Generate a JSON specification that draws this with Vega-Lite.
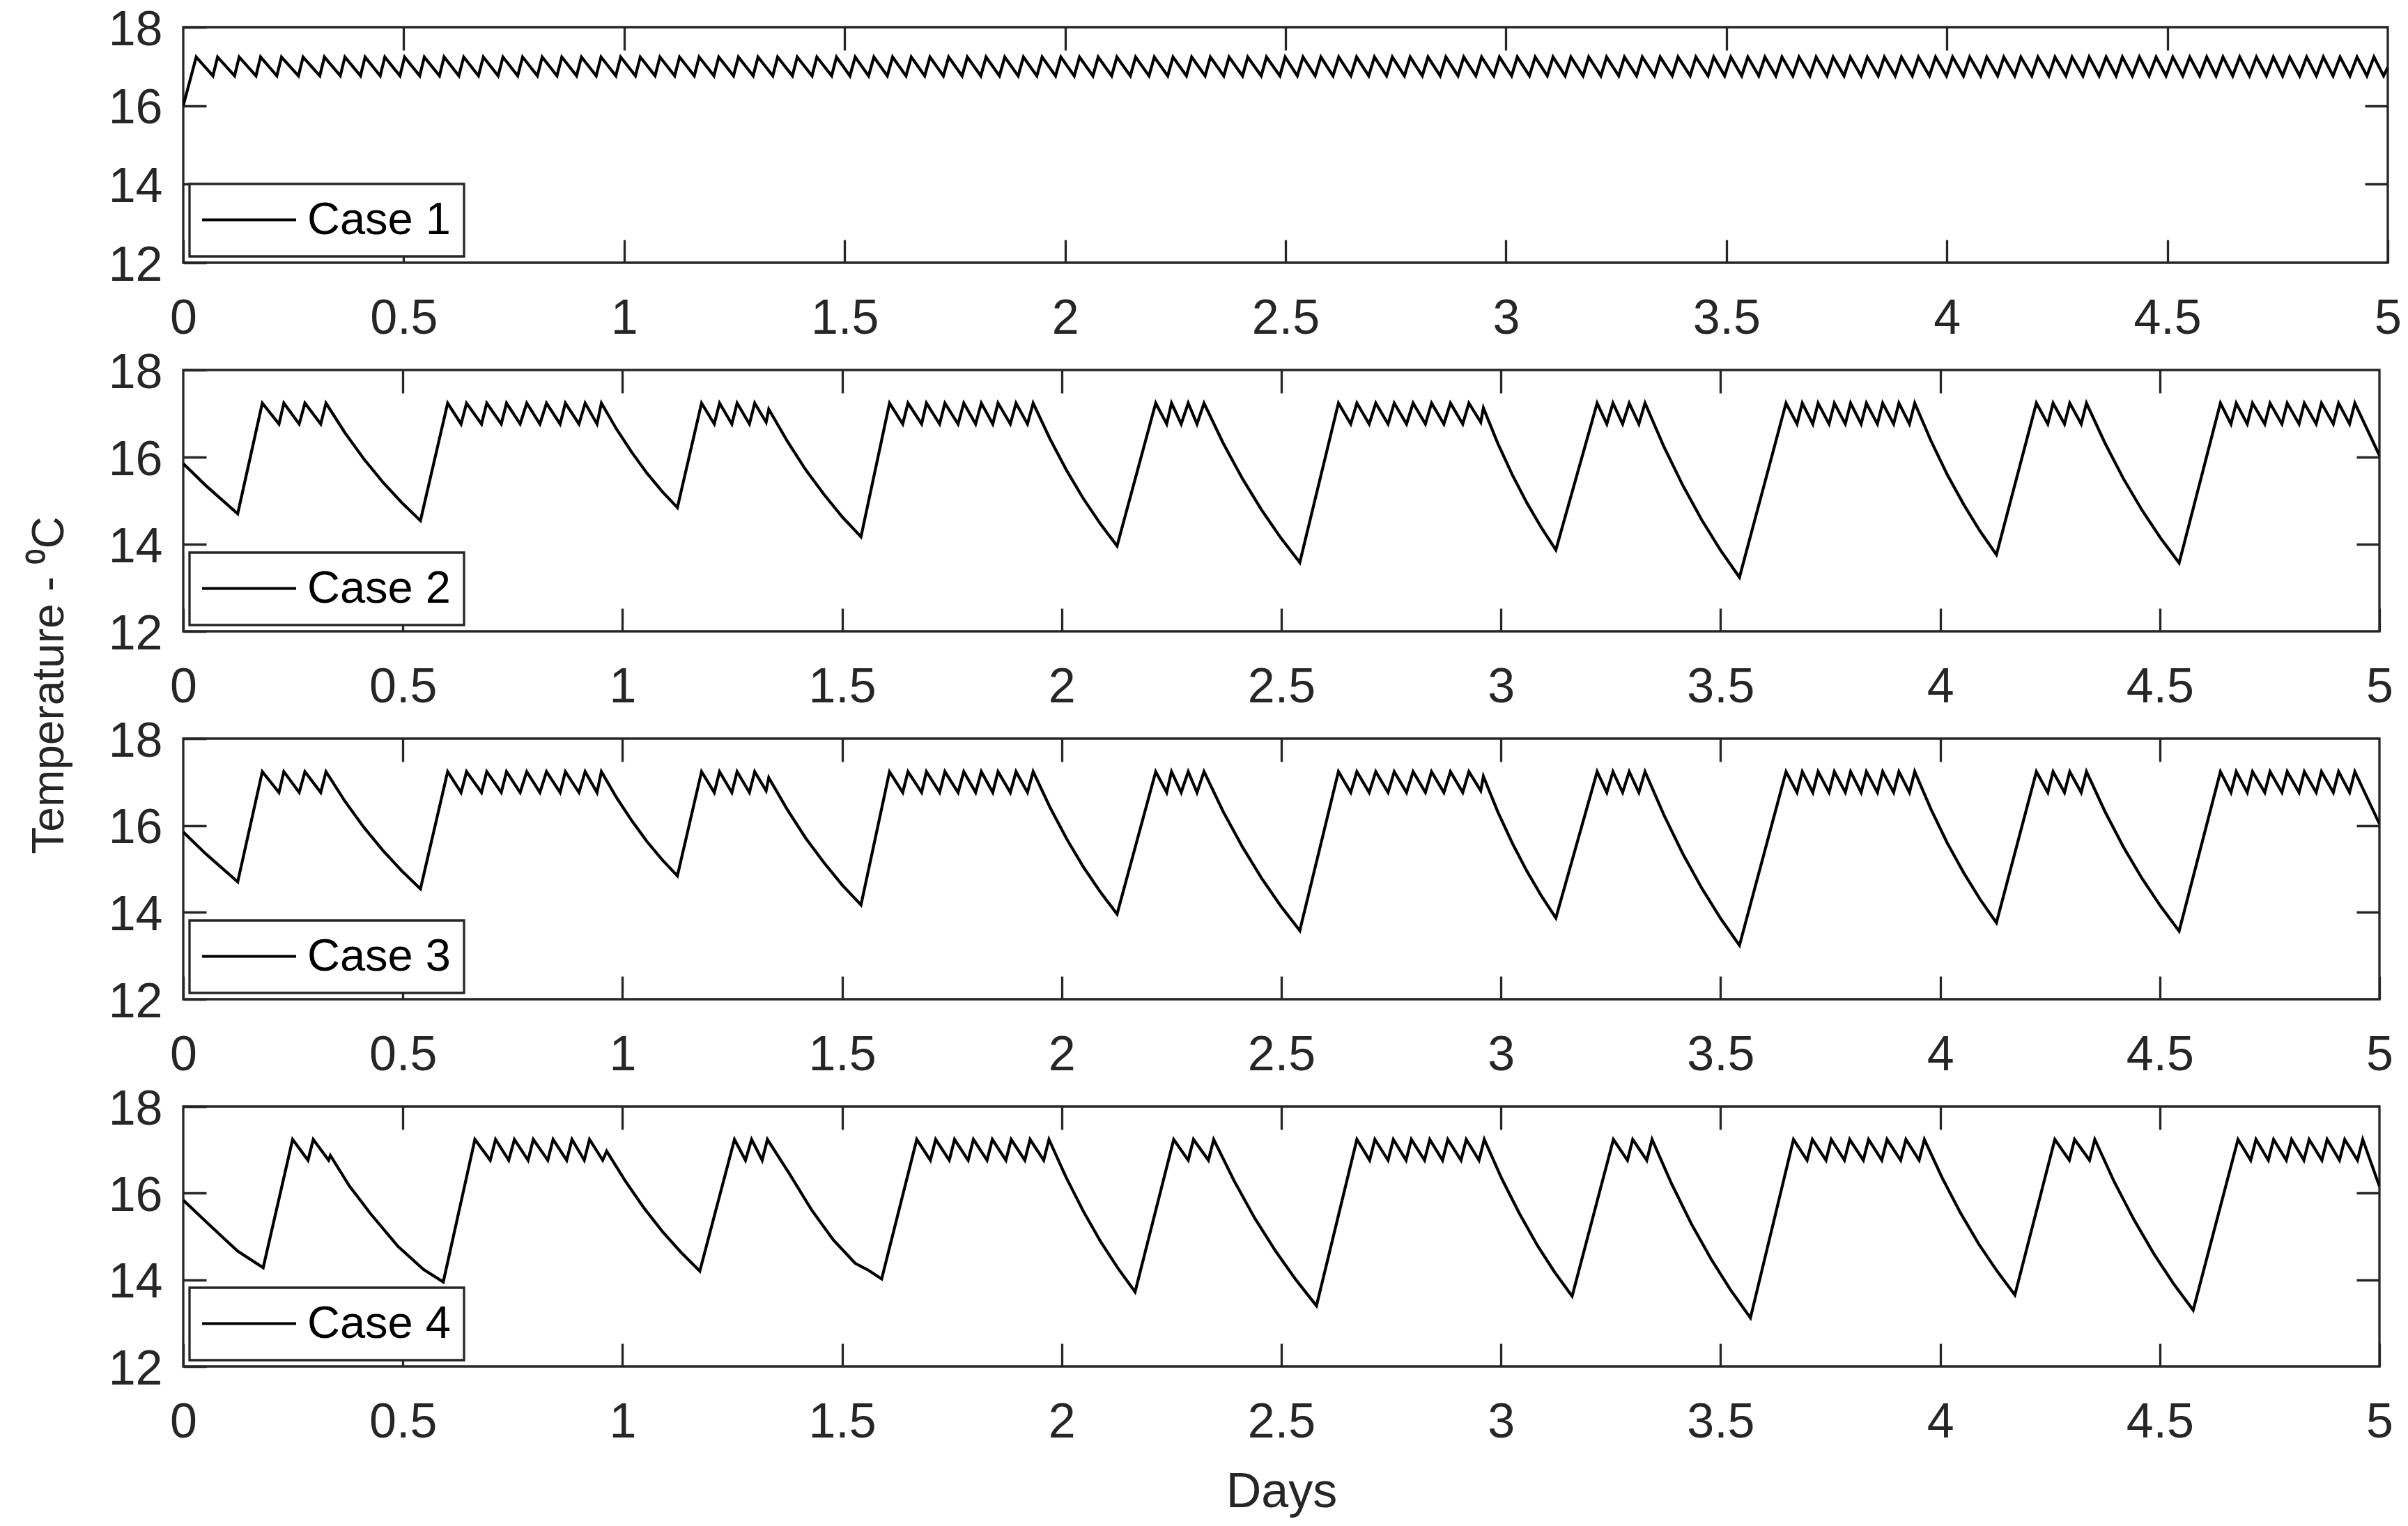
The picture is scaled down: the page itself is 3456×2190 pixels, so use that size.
{
"$schema": "https://vega.github.io/schema/vega-lite/v6.json",
"background": "white",
"padding": {"left": 37, "top": 6, "right": 20, "bottom": 10},
"spacing": 154,
"bounds": "flush",
"config": {
  "font": "Liberation Sans",
  "view": {"stroke": "#262626", "strokeWidth": 3.3},
  "axis": {"grid": false, "domain": false, "ticks": true, "tickColor": "#262626", "tickWidth": 3.3, "tickSize": -33, "labelFont": "Liberation Sans", "labelFontSize": 70, "labelColor": "#262626", "labelFlush": false, "labelOverlap": false, "labelBound": false, "titleFont": "Liberation Sans", "titleFontSize": 70, "titleFontWeight": "normal", "titleColor": "#262626"},
  "axisX": {"labelPadding": 79},
  "axisY": {"labelPadding": 63, "labelOffset": 4},
  "legend": {"orient": "bottom-left", "offset": 9, "padding": 19, "fillColor": "white", "strokeColor": "#262626", "strokeWidth": 3.3, "labelFont": "Liberation Sans", "labelFontSize": 65, "labelColor": "black", "labelOffset": 51, "labelLimit": 1000, "symbolOffset": 34, "symbolType": "M-5,0H5", "symbolSize": 729, "symbolStrokeWidth": 4.2, "symbolStrokeColor": "black"}
},
"resolve": {"scale": {"stroke": "independent"}, "legend": {"stroke": "independent"}},
"datasets": {
"c1": [
{"d":0,"t":16.0},{"d":0.0294,"t":17.24},{"d":0.0674,"t":16.76},{"d":0.0779,"t":17.24},{"d":0.1164,"t":16.76},{"d":0.1269,"t":17.24},{"d":0.1649,"t":16.76},{"d":0.1754,"t":17.24},{"d":0.2123,"t":16.76},{"d":0.2228,"t":17.24},{"d":0.2613,"t":16.76},{"d":0.2718,"t":17.24},{"d":0.3097,"t":16.76},{"d":0.3202,"t":17.24},{"d":0.3562,"t":16.76},{"d":0.3667,"t":17.24},{"d":0.402,"t":16.76},{"d":0.4125,"t":17.24},{"d":0.4467,"t":16.76},{"d":0.4572,"t":17.24},{"d":0.4915,"t":16.76},{"d":0.502,"t":17.24},{"d":0.5363,"t":16.76},{"d":0.5468,"t":17.24},{"d":0.5811,"t":16.76},{"d":0.5916,"t":17.24},
{"d":0.6251,"t":16.76},{"d":0.6361,"t":17.24},{"d":0.6696,"t":16.76},{"d":0.6806,"t":17.24},{"d":0.7141,"t":16.76},{"d":0.7251,"t":17.24},{"d":0.7586,"t":16.76},{"d":0.7696,"t":17.24},{"d":0.8031,"t":16.76},{"d":0.8141,"t":17.24},{"d":0.8476,"t":16.76},{"d":0.8586,"t":17.24},{"d":0.8921,"t":16.76},{"d":0.9031,"t":17.24},{"d":0.9366,"t":16.76},{"d":0.9476,"t":17.24},{"d":0.9811,"t":16.76},{"d":0.9921,"t":17.24},{"d":1.0256,"t":16.76},{"d":1.0366,"t":17.24},{"d":1.0701,"t":16.76},{"d":1.0811,"t":17.24},{"d":1.1146,"t":16.76},{"d":1.1256,"t":17.24},{"d":1.1591,"t":16.76},{"d":1.1701,"t":17.24},{"d":1.2036,"t":16.76},{"d":1.2146,"t":17.24},{"d":1.2481,"t":16.76},{"d":1.2591,"t":17.24},{"d":1.2926,"t":16.76},{"d":1.3036,"t":17.24},{"d":1.3371,"t":16.76},{"d":1.3481,"t":17.24},{"d":1.3816,"t":16.76},{"d":1.3926,"t":17.24},{"d":1.4261,"t":16.76},{"d":1.4371,"t":17.24},{"d":1.4706,"t":16.76},{"d":1.4816,"t":17.24},
{"d":1.512,"t":16.76},{"d":1.524,"t":17.24},{"d":1.5544,"t":16.76},{"d":1.5664,"t":17.24},{"d":1.5968,"t":16.76},{"d":1.6088,"t":17.24},{"d":1.6392,"t":16.76},{"d":1.6512,"t":17.24},{"d":1.6816,"t":16.76},{"d":1.6936,"t":17.24},{"d":1.724,"t":16.76},{"d":1.736,"t":17.24},{"d":1.7664,"t":16.76},{"d":1.7784,"t":17.24},{"d":1.8088,"t":16.76},{"d":1.8208,"t":17.24},{"d":1.8512,"t":16.76},{"d":1.8632,"t":17.24},{"d":1.8936,"t":16.76},{"d":1.9056,"t":17.24},{"d":1.936,"t":16.76},{"d":1.948,"t":17.24},{"d":1.9784,"t":16.76},{"d":1.9904,"t":17.24},{"d":2.0208,"t":16.76},{"d":2.0328,"t":17.24},{"d":2.0632,"t":16.76},{"d":2.0752,"t":17.24},{"d":2.1056,"t":16.76},{"d":2.1176,"t":17.24},{"d":2.148,"t":16.76},{"d":2.16,"t":17.24},{"d":2.1904,"t":16.76},{"d":2.2024,"t":17.24},{"d":2.2328,"t":16.76},{"d":2.2448,"t":17.24},{"d":2.2752,"t":16.76},{"d":2.2872,"t":17.24},{"d":2.3176,"t":16.76},{"d":2.3296,"t":17.24},{"d":2.36,"t":16.76},{"d":2.372,"t":17.24},{"d":2.4024,"t":16.76},{"d":2.4144,"t":17.24},{"d":2.4448,"t":16.76},{"d":2.4568,"t":17.24},{"d":2.4872,"t":16.76},{"d":2.4992,"t":17.24},
{"d":2.5267,"t":16.76},{"d":2.5397,"t":17.24},{"d":2.5672,"t":16.76},{"d":2.5802,"t":17.24},{"d":2.6077,"t":16.76},{"d":2.6207,"t":17.24},{"d":2.6482,"t":16.76},{"d":2.6612,"t":17.24},{"d":2.6887,"t":16.76},{"d":2.7017,"t":17.24},{"d":2.7292,"t":16.76},{"d":2.7422,"t":17.24},{"d":2.7697,"t":16.76},{"d":2.7827,"t":17.24},{"d":2.8102,"t":16.76},{"d":2.8232,"t":17.24},{"d":2.8507,"t":16.76},{"d":2.8637,"t":17.24},{"d":2.8912,"t":16.76},{"d":2.9042,"t":17.24},{"d":2.9317,"t":16.76},{"d":2.9447,"t":17.24},{"d":2.9722,"t":16.76},{"d":2.9852,"t":17.24},{"d":3.0127,"t":16.76},{"d":3.0257,"t":17.24},{"d":3.0532,"t":16.76},{"d":3.0662,"t":17.24},{"d":3.0937,"t":16.76},{"d":3.1067,"t":17.24},{"d":3.1342,"t":16.76},{"d":3.1472,"t":17.24},{"d":3.1747,"t":16.76},{"d":3.1877,"t":17.24},{"d":3.2152,"t":16.76},{"d":3.2282,"t":17.24},{"d":3.2557,"t":16.76},{"d":3.2687,"t":17.24},{"d":3.2962,"t":16.76},{"d":3.3092,"t":17.24},{"d":3.3367,"t":16.76},{"d":3.3497,"t":17.24},{"d":3.3772,"t":16.76},{"d":3.3902,"t":17.24},{"d":3.4177,"t":16.76},{"d":3.4307,"t":17.24},{"d":3.4582,"t":16.76},{"d":3.4712,"t":17.24},
{"d":3.4959,"t":16.76},{"d":3.5099,"t":17.24},{"d":3.5346,"t":16.76},{"d":3.5486,"t":17.24},{"d":3.5733,"t":16.76},{"d":3.5873,"t":17.24},{"d":3.612,"t":16.76},{"d":3.626,"t":17.24},{"d":3.6507,"t":16.76},{"d":3.6647,"t":17.24},{"d":3.6894,"t":16.76},{"d":3.7034,"t":17.24},{"d":3.7281,"t":16.76},{"d":3.7421,"t":17.24},{"d":3.7668,"t":16.76},{"d":3.7808,"t":17.24},{"d":3.8055,"t":16.76},{"d":3.8195,"t":17.24},{"d":3.8442,"t":16.76},{"d":3.8582,"t":17.24},{"d":3.8829,"t":16.76},{"d":3.8969,"t":17.24},{"d":3.9216,"t":16.76},{"d":3.9356,"t":17.24},{"d":3.9603,"t":16.76},{"d":3.9743,"t":17.24},{"d":3.999,"t":16.76},{"d":4.013,"t":17.24},{"d":4.0377,"t":16.76},{"d":4.0517,"t":17.24},{"d":4.0764,"t":16.76},{"d":4.0904,"t":17.24},{"d":4.1151,"t":16.76},{"d":4.1291,"t":17.24},{"d":4.1538,"t":16.76},{"d":4.1678,"t":17.24},{"d":4.1925,"t":16.76},{"d":4.2065,"t":17.24},{"d":4.2312,"t":16.76},{"d":4.2452,"t":17.24},{"d":4.2699,"t":16.76},{"d":4.2839,"t":17.24},{"d":4.3086,"t":16.76},{"d":4.3226,"t":17.24},
{"d":4.3453,"t":16.76},{"d":4.3612,"t":17.24},{"d":4.3837,"t":16.76},{"d":4.398,"t":17.24},{"d":4.4207,"t":16.76},{"d":4.4366,"t":17.24},{"d":4.4586,"t":16.76},{"d":4.4745,"t":17.24},{"d":4.497,"t":16.76},{"d":4.5124,"t":17.24},{"d":4.535,"t":16.76},{"d":4.5508,"t":17.24},{"d":4.5734,"t":16.76},{"d":4.5893,"t":17.24},{"d":4.6104,"t":16.76},{"d":4.6262,"t":17.24},{"d":4.6483,"t":16.76},{"d":4.6641,"t":17.24},{"d":4.6862,"t":16.76},{"d":4.702,"t":17.24},{"d":4.7246,"t":16.76},{"d":4.7405,"t":17.24},{"d":4.7614,"t":16.76},{"d":4.7773,"t":17.24},{"d":4.8,"t":16.76},{"d":4.8159,"t":17.24},{"d":4.8379,"t":16.76},{"d":4.8538,"t":17.24},{"d":4.8758,"t":16.76},{"d":4.8917,"t":17.24},{"d":4.9142,"t":16.76},{"d":4.9302,"t":17.24},{"d":4.9526,"t":16.76},{"d":4.9686,"t":17.24},{"d":4.9905,"t":16.76},{"d":5.0,"t":16.98}
],
"c23": [
{"d":0,"t":15.85},{"d":0.051,"t":15.35},{"d":0.124,"t":14.7},{"d":0.18,"t":17.24},{"d":0.218,"t":16.76},{"d":0.229,"t":17.24},{"d":0.264,"t":16.76},{"d":0.277,"t":17.24},{"d":0.313,"t":16.76},{"d":0.325,"t":17.24},{"d":0.368,"t":16.56},{"d":0.411,"t":15.96},{"d":0.454,"t":15.43},{"d":0.497,"t":14.96},{"d":0.54,"t":14.54},
{"d":0.602,"t":17.24},{"d":0.6325,"t":16.76},{"d":0.645,"t":17.24},{"d":0.679,"t":16.76},{"d":0.691,"t":17.24},{"d":0.724,"t":16.76},{"d":0.736,"t":17.24},{"d":0.767,"t":16.76},{"d":0.782,"t":17.24},{"d":0.812,"t":16.76},{"d":0.827,"t":17.24},{"d":0.858,"t":16.76},{"d":0.87,"t":17.24},{"d":0.901,"t":16.76},{"d":0.915,"t":17.24},{"d":0.942,"t":16.76},{"d":0.952,"t":17.24},{"d":0.9866,"t":16.64},{"d":1.0212,"t":16.11},{"d":1.0558,"t":15.63},{"d":1.0904,"t":15.21},{"d":1.125,"t":14.84},
{"d":1.18,"t":17.24},{"d":1.209,"t":16.76},{"d":1.221,"t":17.24},{"d":1.249,"t":16.76},{"d":1.261,"t":17.24},{"d":1.289,"t":16.76},{"d":1.301,"t":17.24},{"d":1.327,"t":16.8},{"d":1.333,"t":17.1},{"d":1.375,"t":16.37},{"d":1.417,"t":15.71},{"d":1.459,"t":15.14},{"d":1.501,"t":14.62},{"d":1.543,"t":14.17},
{"d":1.608,"t":17.24},{"d":1.638,"t":16.76},{"d":1.65,"t":17.24},{"d":1.681,"t":16.76},{"d":1.692,"t":17.24},{"d":1.722,"t":16.76},{"d":1.734,"t":17.24},{"d":1.764,"t":16.76},{"d":1.777,"t":17.24},{"d":1.804,"t":16.76},{"d":1.817,"t":17.24},{"d":1.843,"t":16.76},{"d":1.855,"t":17.24},{"d":1.883,"t":16.76},{"d":1.896,"t":17.24},{"d":1.922,"t":16.76},{"d":1.935,"t":17.24},{"d":1.9732,"t":16.42},{"d":2.0114,"t":15.69},{"d":2.0496,"t":15.04},{"d":2.0878,"t":14.47},{"d":2.126,"t":13.96},
{"d":2.214,"t":17.24},{"d":2.239,"t":16.76},{"d":2.25,"t":17.24},{"d":2.272,"t":16.76},{"d":2.288,"t":17.24},{"d":2.308,"t":16.76},{"d":2.324,"t":17.24},{"d":2.3676,"t":16.32},{"d":2.4112,"t":15.51},{"d":2.4548,"t":14.79},{"d":2.4984,"t":14.15},{"d":2.542,"t":13.58},
{"d":2.63,"t":17.24},{"d":2.658,"t":16.76},{"d":2.672,"t":17.24},{"d":2.7,"t":16.76},{"d":2.715,"t":17.24},{"d":2.743,"t":16.76},{"d":2.757,"t":17.24},{"d":2.785,"t":16.76},{"d":2.8,"t":17.24},{"d":2.828,"t":16.76},{"d":2.842,"t":17.24},{"d":2.87,"t":16.76},{"d":2.885,"t":17.24},{"d":2.913,"t":16.76},{"d":2.927,"t":17.24},{"d":2.954,"t":16.8},{"d":2.96,"t":17.13},{"d":2.993,"t":16.31},{"d":3.026,"t":15.59},{"d":3.059,"t":14.95},{"d":3.092,"t":14.38},{"d":3.125,"t":13.87},
{"d":3.219,"t":17.24},{"d":3.241,"t":16.76},{"d":3.255,"t":17.24},{"d":3.277,"t":16.76},{"d":3.292,"t":17.24},{"d":3.314,"t":16.76},{"d":3.328,"t":17.24},{"d":3.371,"t":16.24},{"d":3.414,"t":15.35},{"d":3.457,"t":14.56},{"d":3.5,"t":13.86},{"d":3.543,"t":13.24},
{"d":3.649,"t":17.24},{"d":3.674,"t":16.76},{"d":3.686,"t":17.24},{"d":3.71,"t":16.76},{"d":3.722,"t":17.24},{"d":3.747,"t":16.76},{"d":3.759,"t":17.24},{"d":3.784,"t":16.76},{"d":3.796,"t":17.24},{"d":3.82,"t":16.76},{"d":3.832,"t":17.24},{"d":3.857,"t":16.76},{"d":3.869,"t":17.24},{"d":3.894,"t":16.76},{"d":3.906,"t":17.24},{"d":3.93,"t":16.76},{"d":3.942,"t":17.24},{"d":3.9792,"t":16.37},{"d":4.0164,"t":15.59},{"d":4.0536,"t":14.91},{"d":4.0908,"t":14.3},{"d":4.128,"t":13.76},
{"d":4.219,"t":17.24},{"d":4.245,"t":16.76},{"d":4.257,"t":17.24},{"d":4.283,"t":16.76},{"d":4.295,"t":17.24},{"d":4.321,"t":16.76},{"d":4.333,"t":17.24},{"d":4.3752,"t":16.32},{"d":4.4174,"t":15.5},{"d":4.4596,"t":14.78},{"d":4.5018,"t":14.14},{"d":4.544,"t":13.57},
{"d":4.638,"t":17.24},{"d":4.662,"t":16.76},{"d":4.674,"t":17.24},{"d":4.699,"t":16.76},{"d":4.711,"t":17.24},{"d":4.739,"t":16.76},{"d":4.751,"t":17.24},{"d":4.778,"t":16.76},{"d":4.79,"t":17.24},{"d":4.817,"t":16.76},{"d":4.829,"t":17.24},{"d":4.856,"t":16.76},{"d":4.868,"t":17.24},{"d":4.895,"t":16.76},{"d":4.907,"t":17.24},{"d":4.932,"t":16.76},{"d":4.944,"t":17.24},{"d":5.0,"t":16.04}
],
"c4": [
{"d":0,"t":15.84},{"d":0.056,"t":15.3},{"d":0.124,"t":14.66},{"d":0.182,"t":14.28},{"d":0.249,"t":17.24},{"d":0.284,"t":16.76},{"d":0.296,"t":17.24},{"d":0.331,"t":16.76},{"d":0.335,"t":16.87},{"d":0.378,"t":16.17},{"d":0.426,"t":15.53},{"d":0.489,"t":14.77},{"d":0.547,"t":14.24},{"d":0.592,"t":13.95},
{"d":0.664,"t":17.24},{"d":0.699,"t":16.76},{"d":0.711,"t":17.24},{"d":0.741,"t":16.76},{"d":0.754,"t":17.24},{"d":0.785,"t":16.76},{"d":0.797,"t":17.24},{"d":0.83,"t":16.76},{"d":0.842,"t":17.24},{"d":0.873,"t":16.76},{"d":0.885,"t":17.24},{"d":0.913,"t":16.76},{"d":0.925,"t":17.24},{"d":0.955,"t":16.76},{"d":0.964,"t":16.97},{"d":1.0064,"t":16.28},{"d":1.0488,"t":15.66},{"d":1.0912,"t":15.11},{"d":1.1336,"t":14.63},{"d":1.176,"t":14.2},
{"d":1.255,"t":17.24},{"d":1.28,"t":16.76},{"d":1.294,"t":17.24},{"d":1.318,"t":16.76},{"d":1.33,"t":17.24},{"d":1.38,"t":16.45},{"d":1.43,"t":15.62},{"d":1.48,"t":14.92},{"d":1.53,"t":14.38},{"d":1.56,"t":14.22},{"d":1.59,"t":14.02},
{"d":1.67,"t":17.24},{"d":1.701,"t":16.76},{"d":1.713,"t":17.24},{"d":1.744,"t":16.76},{"d":1.756,"t":17.24},{"d":1.787,"t":16.76},{"d":1.799,"t":17.24},{"d":1.83,"t":16.76},{"d":1.842,"t":17.24},{"d":1.873,"t":16.76},{"d":1.885,"t":17.24},{"d":1.916,"t":16.76},{"d":1.928,"t":17.24},{"d":1.959,"t":16.76},{"d":1.971,"t":17.24},{"d":2.0102,"t":16.36},{"d":2.0494,"t":15.58},{"d":2.0886,"t":14.88},{"d":2.1278,"t":14.27},{"d":2.167,"t":13.72},
{"d":2.255,"t":17.24},{"d":2.288,"t":16.76},{"d":2.3,"t":17.24},{"d":2.334,"t":16.76},{"d":2.346,"t":17.24},{"d":2.3928,"t":16.28},{"d":2.4396,"t":15.42},{"d":2.4864,"t":14.67},{"d":2.5332,"t":14.0},{"d":2.58,"t":13.4},
{"d":2.672,"t":17.24},{"d":2.701,"t":16.76},{"d":2.713,"t":17.24},{"d":2.743,"t":16.76},{"d":2.755,"t":17.24},{"d":2.784,"t":16.76},{"d":2.796,"t":17.24},{"d":2.826,"t":16.76},{"d":2.838,"t":17.24},{"d":2.867,"t":16.76},{"d":2.879,"t":17.24},{"d":2.909,"t":16.76},{"d":2.921,"t":17.24},{"d":2.95,"t":16.76},{"d":2.962,"t":17.24},{"d":3.002,"t":16.33},{"d":3.042,"t":15.53},{"d":3.082,"t":14.81},{"d":3.122,"t":14.18},{"d":3.162,"t":13.62},
{"d":3.256,"t":17.24},{"d":3.288,"t":16.76},{"d":3.3,"t":17.24},{"d":3.332,"t":16.76},{"d":3.344,"t":17.24},{"d":3.3888,"t":16.21},{"d":3.4336,"t":15.29},{"d":3.4784,"t":14.48},{"d":3.5232,"t":13.76},{"d":3.568,"t":13.12},
{"d":3.666,"t":17.24},{"d":3.697,"t":16.76},{"d":3.709,"t":17.24},{"d":3.74,"t":16.76},{"d":3.752,"t":17.24},{"d":3.782,"t":16.76},{"d":3.794,"t":17.24},{"d":3.825,"t":16.76},{"d":3.837,"t":17.24},{"d":3.867,"t":16.76},{"d":3.879,"t":17.24},{"d":3.91,"t":16.76},{"d":3.922,"t":17.24},{"d":3.952,"t":16.76},{"d":3.964,"t":17.24},{"d":4.0052,"t":16.34},{"d":4.0464,"t":15.54},{"d":4.0876,"t":14.83},{"d":4.1288,"t":14.21},{"d":4.17,"t":13.65},
{"d":4.261,"t":17.24},{"d":4.294,"t":16.76},{"d":4.306,"t":17.24},{"d":4.34,"t":16.76},{"d":4.352,"t":17.24},{"d":4.3968,"t":16.25},{"d":4.4416,"t":15.38},{"d":4.4864,"t":14.6},{"d":4.5312,"t":13.91},{"d":4.576,"t":13.3},
{"d":4.678,"t":17.24},{"d":4.707,"t":16.76},{"d":4.719,"t":17.24},{"d":4.747,"t":16.76},{"d":4.759,"t":17.24},{"d":4.788,"t":16.76},{"d":4.8,"t":17.24},{"d":4.828,"t":16.76},{"d":4.84,"t":17.24},{"d":4.869,"t":16.76},{"d":4.881,"t":17.24},{"d":4.909,"t":16.76},{"d":4.921,"t":17.24},{"d":4.95,"t":16.76},{"d":4.962,"t":17.24},{"d":5.0,"t":16.16}
]
},
"vconcat": [
{
 "width": 3164, "height": 338,
 "data": {"name": "c1"},
 "layer": [
  {"mark": {"type": "line", "strokeWidth": 4.2, "clip": true},
   "encoding": {
    "x": {"field": "d", "type": "quantitative", "scale": {"domain": [0, 5], "nice": false, "zero": false}, "axis": {"orient": "bottom", "values": [0,0.5,1,1.5,2,2.5,3,3.5,4,4.5,5], "format": "~g", "title": null}},
    "y": {"field": "t", "type": "quantitative", "scale": {"domain": [12, 18], "nice": false, "zero": false}, "axis": {"orient": "left", "values": [12,14,16,18], "title": null}},
    "stroke": {"datum": "Case 1", "type": "nominal", "scale": {"range": ["black"]}, "legend": {"title": null, "encode": {"legend": {"update": {"strokeWidth": {"value": 3.3}}}}}}
   }},
  {"mark": {"type": "line", "opacity": 0},
   "encoding": {
    "x": {"field": "d", "type": "quantitative", "scale": {"domain": [0, 5], "nice": false, "zero": false}, "axis": {"orient": "top", "labels": false, "values": [0.5,1,1.5,2,2.5,3,3.5,4,4.5], "title": null}},
    "y": {"field": "t", "type": "quantitative", "scale": {"domain": [12, 18], "nice": false, "zero": false}, "axis": {"orient": "right", "labels": false, "values": [14,16], "title": null}}
   }}
 ],
 "resolve": {"axis": {"x": "independent", "y": "independent"}}
},
{
 "width": 3152, "height": 375,
 "data": {"name": "c23"},
 "layer": [
  {"mark": {"type": "line", "strokeWidth": 4.2, "clip": true},
   "encoding": {
    "x": {"field": "d", "type": "quantitative", "scale": {"domain": [0, 5], "nice": false, "zero": false}, "axis": {"orient": "bottom", "values": [0,0.5,1,1.5,2,2.5,3,3.5,4,4.5,5], "format": "~g", "title": null}},
    "y": {"field": "t", "type": "quantitative", "scale": {"domain": [12, 18], "nice": false, "zero": false}, "axis": {"orient": "left", "values": [12,14,16,18], "title": "Temperature - ⁰C", "titleX": -173, "titleY": 452, "titleAngle": -90, "titleAlign": "center", "titleBaseline": "alphabetic", "titleFontSize": 64}},
    "stroke": {"datum": "Case 2", "type": "nominal", "scale": {"range": ["black"]}, "legend": {"title": null, "encode": {"legend": {"update": {"strokeWidth": {"value": 3.3}}}}}}
   }},
  {"mark": {"type": "line", "opacity": 0},
   "encoding": {
    "x": {"field": "d", "type": "quantitative", "scale": {"domain": [0, 5], "nice": false, "zero": false}, "axis": {"orient": "top", "labels": false, "values": [0.5,1,1.5,2,2.5,3,3.5,4,4.5], "title": null}},
    "y": {"field": "t", "type": "quantitative", "scale": {"domain": [12, 18], "nice": false, "zero": false}, "axis": {"orient": "right", "labels": false, "values": [14,16], "title": null}}
   }}
 ],
 "resolve": {"axis": {"x": "independent", "y": "independent"}}
},
{
 "width": 3152, "height": 374,
 "data": {"name": "c23"},
 "layer": [
  {"mark": {"type": "line", "strokeWidth": 4.2, "clip": true},
   "encoding": {
    "x": {"field": "d", "type": "quantitative", "scale": {"domain": [0, 5], "nice": false, "zero": false}, "axis": {"orient": "bottom", "values": [0,0.5,1,1.5,2,2.5,3,3.5,4,4.5,5], "format": "~g", "title": null}},
    "y": {"field": "t", "type": "quantitative", "scale": {"domain": [12, 18], "nice": false, "zero": false}, "axis": {"orient": "left", "values": [12,14,16,18], "title": null}},
    "stroke": {"datum": "Case 3", "type": "nominal", "scale": {"range": ["black"]}, "legend": {"title": null, "encode": {"legend": {"update": {"strokeWidth": {"value": 3.3}}}}}}
   }},
  {"mark": {"type": "line", "opacity": 0},
   "encoding": {
    "x": {"field": "d", "type": "quantitative", "scale": {"domain": [0, 5], "nice": false, "zero": false}, "axis": {"orient": "top", "labels": false, "values": [0.5,1,1.5,2,2.5,3,3.5,4,4.5], "title": null}},
    "y": {"field": "t", "type": "quantitative", "scale": {"domain": [12, 18], "nice": false, "zero": false}, "axis": {"orient": "right", "labels": false, "values": [14,16], "title": null}}
   }}
 ],
 "resolve": {"axis": {"x": "independent", "y": "independent"}}
},
{
 "width": 3152, "height": 373,
 "data": {"name": "c4"},
 "layer": [
  {"mark": {"type": "line", "strokeWidth": 4.2, "clip": true},
   "encoding": {
    "x": {"field": "d", "type": "quantitative", "scale": {"domain": [0, 5], "nice": false, "zero": false}, "axis": {"orient": "bottom", "values": [0,0.5,1,1.5,2,2.5,3,3.5,4,4.5,5], "format": "~g", "title": "Days", "titleY": 201, "titleBaseline": "alphabetic"}},
    "y": {"field": "t", "type": "quantitative", "scale": {"domain": [12, 18], "nice": false, "zero": false}, "axis": {"orient": "left", "values": [12,14,16,18], "title": null}},
    "stroke": {"datum": "Case 4", "type": "nominal", "scale": {"range": ["black"]}, "legend": {"title": null, "encode": {"legend": {"update": {"strokeWidth": {"value": 3.3}}}}}}
   }},
  {"mark": {"type": "line", "opacity": 0},
   "encoding": {
    "x": {"field": "d", "type": "quantitative", "scale": {"domain": [0, 5], "nice": false, "zero": false}, "axis": {"orient": "top", "labels": false, "values": [0.5,1,1.5,2,2.5,3,3.5,4,4.5], "title": null}},
    "y": {"field": "t", "type": "quantitative", "scale": {"domain": [12, 18], "nice": false, "zero": false}, "axis": {"orient": "right", "labels": false, "values": [14,16], "title": null}}
   }}
 ],
 "resolve": {"axis": {"x": "independent", "y": "independent"}}
}
]
}
